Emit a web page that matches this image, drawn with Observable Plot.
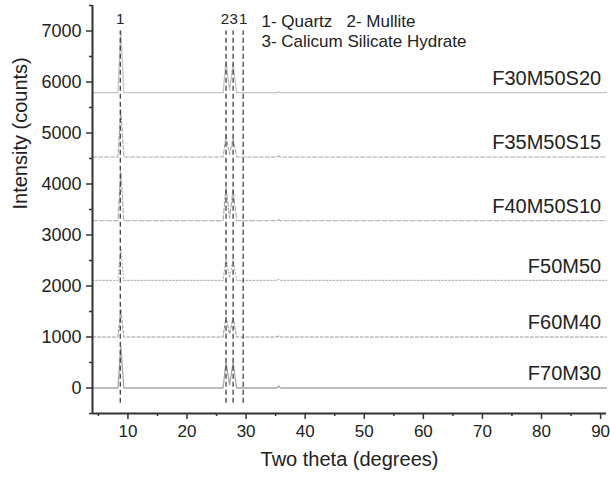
<!DOCTYPE html>
<html><head><meta charset="utf-8">
<script src="https://cdn.jsdelivr.net/npm/d3@7"></script>
<script src="https://cdn.jsdelivr.net/npm/@observablehq/plot@0.6"></script>
<style>body{margin:0;background:#fff;}</style>
</head><body><div id="chart"></div>
<script>
// Two-theta sample positions (degrees)
const twoTheta = [4, 8.3, 8.8, 9.3, 26.1, 26.6, 27.2, 27.8, 28.4, 35.2, 35.5, 35.8, 91];
// Series (intensity in counts, already offset as plotted)
const seriesNames = ["F30M50S20", "F35M50S15", "F40M50S10", "F50M50", "F60M40", "F70M30"];
const baselines = [5790, 4530, 3280, 2110, 1000, 0];
const F30M50S20 = [5790, 5790, 7000, 5790, 5790, 6400, 5840, 6350, 5790, 5790, 5810, 5790, 5790];
const F35M50S15 = [4530, 4530, 5450, 4530, 4530, 4950, 4580, 4900, 4530, 4530, 4550, 4530, 4530];
const F40M50S10 = [3280, 3280, 4250, 3280, 3280, 3950, 3330, 3900, 3280, 3280, 3300, 3280, 3280];
const F50M50    = [2110, 2110, 2750, 2110, 2110, 2550, 2160, 2530, 2110, 2110, 2130, 2110, 2110];
const F60M40    = [1000, 1000, 1550, 1000, 1000, 1400, 1060, 1380, 1000, 1000, 1020, 1000, 1000];
const F70M30    = [0, 0, 820, 0, 0, 500, 60, 500, 0, 0, 40, 0, 0];
const seriesValues = [F30M50S20, F35M50S15, F40M50S10, F50M50, F60M40, F70M30];
// Phase markers
const markerX = [8.7, 26.6, 27.8, 29.5];
const markerLabels = ["1", "2", "3", "1"];
const legendLines = ["1- Quartz   2- Mullite", "3- Calicum Silicate Hydrate"];
// Axis ticks
const xTicks = [10, 20, 30, 40, 50, 60, 70, 80, 90];
const xMinor = [5, 15, 25, 35, 45, 55, 65, 75, 85];
const yTicks = [0, 1000, 2000, 3000, 4000, 5000, 6000, 7000];
const yMinor = [-500, 500, 1500, 2500, 3500, 4500, 5500, 6500, 7500];

const lineStyles = [
  {stroke: "#c4c4c4", strokeWidth: 1.3},
  {stroke: "#a8a8a8", strokeWidth: 1.1, strokeDasharray: "4,2"},
  {stroke: "#a8a8a8", strokeWidth: 1.1, strokeDasharray: "5,2"},
  {stroke: "#b4b4b4", strokeWidth: 1.1, strokeDasharray: "1.5,2"},
  {stroke: "#999", strokeWidth: 1.1, strokeDasharray: "3,2"},
  {stroke: "#a8a8a8", strokeWidth: 1.3}
];

const lineMarks = seriesNames.map((name, i) =>
  Plot.line(twoTheta.map((x, j) => ({x, y: seriesValues[i][j]})), {x: "x", y: "y", ...lineStyles[i]})
);

const labelData = seriesNames.map((name, i) => ({name, y: baselines[i]}));
const markerData = markerX.map((x, i) => ({x, label: markerLabels[i]}));
const labelNudge = [0, -1, 0.5, 0];
const markerTextMarks = markerData.map((d, i) =>
  Plot.text([d], {x: "x", y: 7230, text: "label", dx: labelNudge[i], fontSize: 15, fill: "#222"})
);
const font = "Liberation Sans, Arial, Helvetica, sans-serif";

const chart = Plot.plot({
  width: 610, height: 477,
  marginLeft: 92, marginRight: 4, marginTop: 5, marginBottom: 64,
  style: {fontFamily: font, background: "#fff", color: "#222", overflow: "visible"},
  x: {domain: [4, 91]},
  y: {domain: [-500, 7500]},
  marks: [
    ...lineMarks,
    Plot.ruleX(markerData, {x: "x", y1: -300, y2: 7000, stroke: "#333", strokeWidth: 1.2, strokeDasharray: "5,3"}),
    ...markerTextMarks,
    Plot.text([legendLines[0]], {x: 32.6, y: 7190, text: d => d, textAnchor: "start", fontSize: 17, fill: "#222"}),
    Plot.text([legendLines[1]], {x: 32.6, y: 6790, text: d => d, textAnchor: "start", fontSize: 17, fill: "#222"}),
    Plot.text(labelData, {x: 90.1, y: "y", text: "name", textAnchor: "end", dy: -14, fontSize: 20, fill: "#222"}),
    Plot.axisY({ticks: yMinor, tickSize: 3, tickFormat: () => "", label: null, stroke: "#333", strokeWidth: 1.5}),
    Plot.axisY({ticks: yTicks, tickSize: 6, tickPadding: 5, tickFormat: "d", fontSize: 18, label: null, stroke: "#333", strokeWidth: 1.5, fill: "#222"}),
    Plot.axisX({ticks: xMinor, tickSize: 3, tickFormat: () => "", label: null, stroke: "#333", strokeWidth: 1.5}),
    Plot.axisX({ticks: xTicks, tickSize: 6, tickPadding: 5, tickFormat: "d", fontSize: 17, label: null, stroke: "#333", strokeWidth: 1.5, fill: "#222"}),
    Plot.ruleY([-500], {stroke: "#333", strokeWidth: 2}),
    Plot.ruleX([4], {stroke: "#333", strokeWidth: 2}),
    Plot.text(["Intensity (counts)"], {frameAnchor: "left", rotate: -90, dx: -72, text: d => d, fontSize: 20, fill: "#222"}),
    Plot.text(["Two theta (degrees)"], {frameAnchor: "bottom", dy: 52, text: d => d, fontSize: 20, fill: "#222"})
  ]
});
document.getElementById("chart").appendChild(chart);
</script>
</body></html>
